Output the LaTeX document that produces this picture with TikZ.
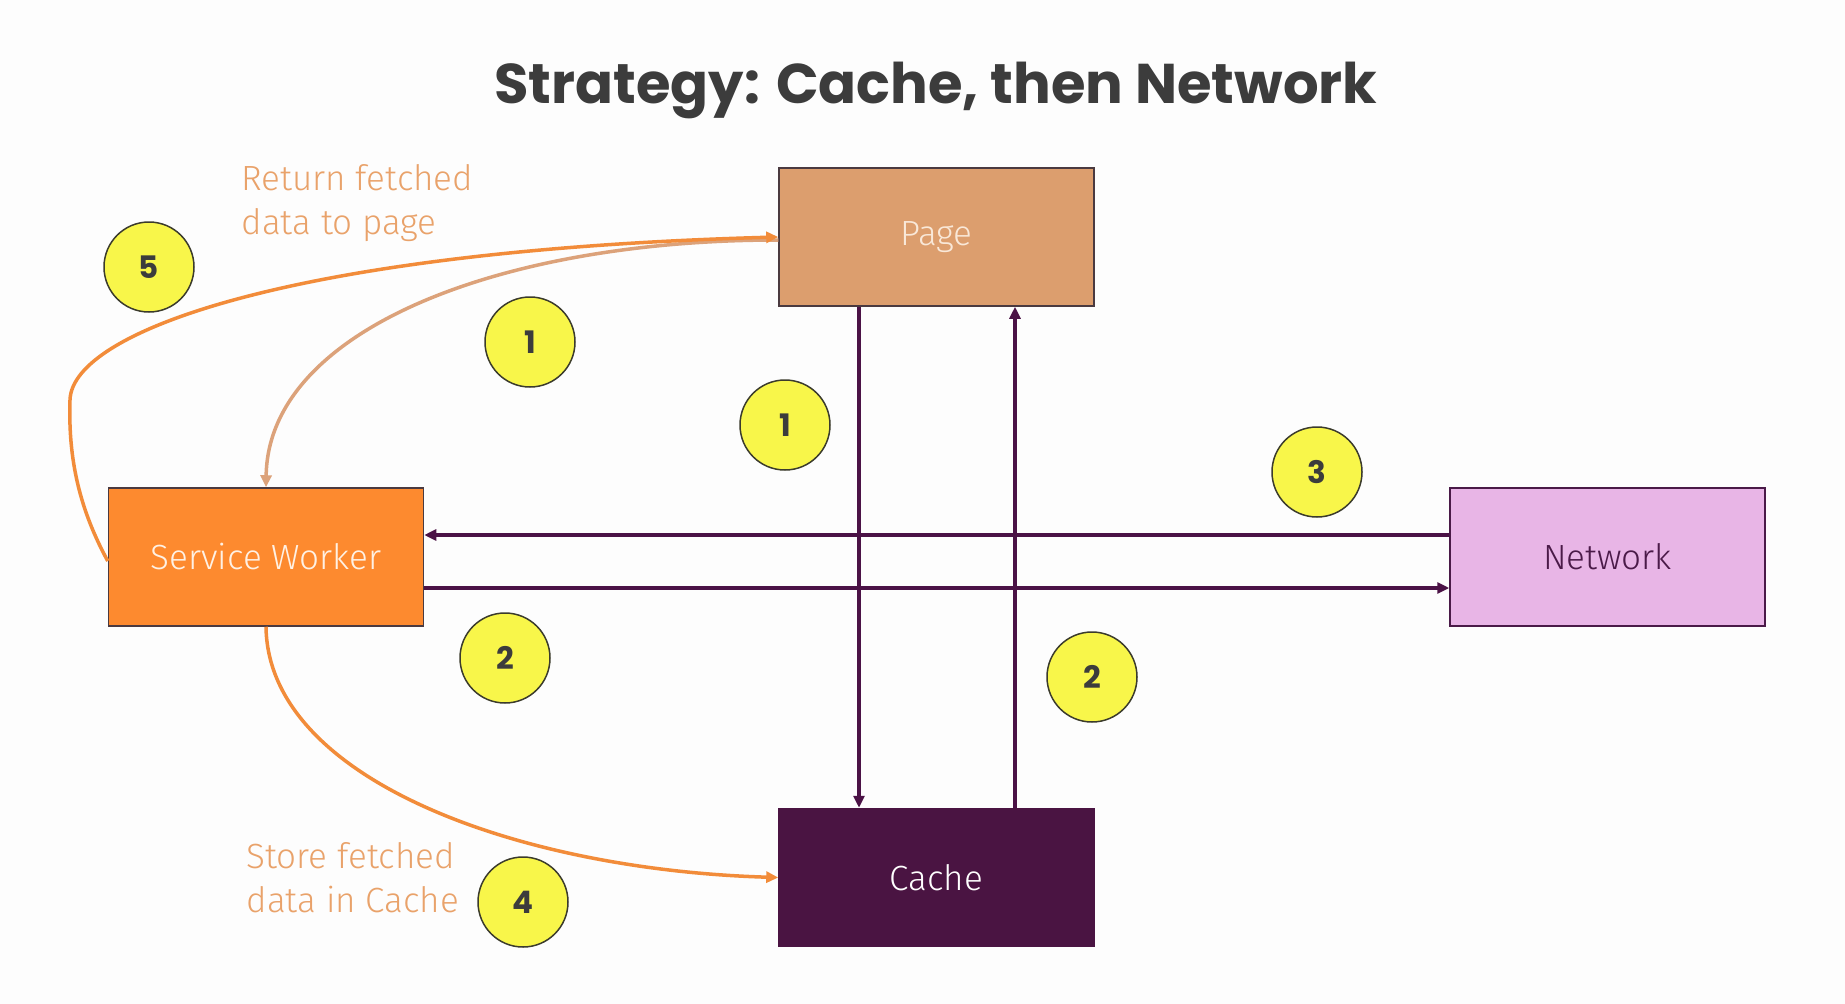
\documentclass[tikz,border=0pt]{standalone}
\usepackage{fontspec}
\setmainfont{Fira Sans}[UprightFont={* Light}]
\newfontfamily\titlefont{Poppins}
\usetikzlibrary{arrows.meta}

\definecolor{bgcol}{HTML}{FDFDFD}
\definecolor{titlecol}{HTML}{3C3C3C}
\definecolor{pagefill}{HTML}{DC9E6E}
\definecolor{pagetext}{HTML}{F9E8D8}
\definecolor{swfill}{HTML}{FD8A2F}
\definecolor{swtext}{HTML}{FFF1E4}
\definecolor{netfill}{HTML}{E8B5E6}
\definecolor{netline}{HTML}{4A1A48}
\definecolor{cachefill}{HTML}{4A1442}
\definecolor{boxline}{HTML}{4A3A40}
\definecolor{arrowdark}{HTML}{4B1246}
\definecolor{orangeline}{HTML}{F28C3A}
\definecolor{tanline}{HTML}{DCA27A}
\definecolor{labelcol}{HTML}{E9A26A}
\definecolor{badgefill}{HTML}{F8F64A}
\definecolor{badgeline}{HTML}{3B3B2C}

\begin{document}
\begin{tikzpicture}[x=1pt,y=-1pt,
  box/.style={draw=boxline, line width=1.5pt, minimum width=315pt, minimum height=138pt,
    inner sep=0pt, font=\fontsize{35}{40}\selectfont},
  badge/.style={circle, draw=badgeline, fill=badgefill, line width=1.5pt, minimum size=90pt,
    inner sep=0pt, text=titlecol, font=\titlefont\bfseries\fontsize{31}{31}\selectfont},
  darkarrow/.style={draw=arrowdark, line width=3.5pt, -{Triangle[length=12pt,width=11pt]}},
  orangearrow/.style={draw=#1, line width=3.5pt, -{Triangle[length=12pt,width=11pt]}},
  note/.style={text=labelcol, align=left, font=\fontsize{35}{44}\selectfont}]
\fill[bgcol] (0,0) rectangle (1845,1004);
\useasboundingbox (0,0) rectangle (1845,1004);
% title
\node[anchor=base, text=titlecol, font=\titlefont\bfseries\fontsize{56}{64}\selectfont]
  (title) at (936,103) {Strategy: Cache, then Network};
% boxes
\node[box, fill=pagefill, text=pagetext] (page) at (936.5,237) {Page};
\node[box, fill=swfill, text=swtext] (sw) at (266,557) {Service Worker};
\node[box, fill=netfill, draw=netline, text=netline] (net) at (1607.5,557) {Network};
\node[box, fill=cachefill, draw=cachefill, text=white] (cache) at (936.5,877.5) {Cache};
% page <-> cache
\draw[darkarrow] ([xshift=-77.5pt]page.south) -- ([xshift=-77.5pt]cache.north);
\draw[darkarrow] ([xshift=78.5pt]cache.north) -- ([xshift=78.5pt]page.south);
% sw <-> network
\draw[darkarrow] ([yshift=22pt]net.west) -- ([yshift=22pt]sw.east);
\draw[darkarrow] ([yshift=-31pt]sw.east) -- ([yshift=-31pt]net.west);
% orange curves
\draw[orangearrow=tanline] ([yshift=-3pt]page.west) .. controls (500,240) and (268,330) .. (sw.north);
\draw[orangearrow=orangeline] ([yshift=-4pt]sw.west) .. controls (80,510) and (68,460) .. (70,400)
  .. controls (72,330) and (300,250) .. (page.west);
\draw[orangearrow=orangeline] (sw.south) .. controls (268,780) and (520,870) .. (cache.west);
% labels
\node[note, anchor=west] (returnlbl) at (238,203) {Return fetched\\data to page};
\node[note, anchor=west] (storelbl) at (243,878) {Store fetched\\data in Cache};
% numbers
\node[badge] (b5) at (149,267) {5};
\node[badge] (b1a) at (530,342) {1};
\node[badge] (b1b) at (785,425) {1};
\node[badge] (b3) at (1317,472) {3};
\node[badge] (b2a) at (505,658) {2};
\node[badge] (b2b) at (1092,677) {2};
\node[badge] (b4) at (523,902) {4};
\end{tikzpicture}
\end{document}
